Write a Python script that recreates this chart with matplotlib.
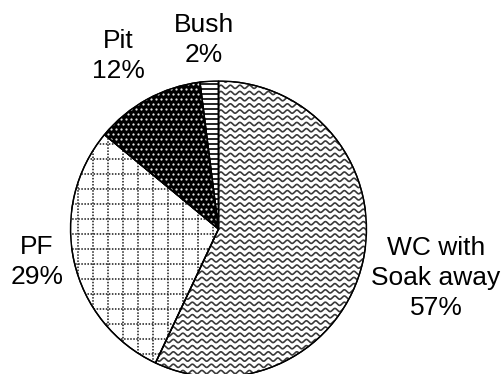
import numpy as np
import matplotlib
matplotlib.use("Agg")
import matplotlib.pyplot as plt
from matplotlib.patches import Wedge

labels = ["WC with\nSoak away", "PF", "Pit", "Bush"]
values = [57, 29, 12, 2]
pct_text = ["57%", "29%", "12%", "2%"]

plt.rcParams['font.family'] = ['Liberation Sans', 'DejaVu Sans']

W, H = 503, 374
fig = plt.figure(figsize=(W / 100, H / 100), dpi=100)
cx, cy, R = 218.5, 229.0, 148.0
ax = fig.add_axes([(cx - R) / W, (H - cy - R) / H, 2 * R / W, 2 * R / H])

wedges, _ = ax.pie(values, startangle=90, counterclock=False, radius=1,
                   colors=['white', 'white', 'black', 'white'],
                   wedgeprops=dict(edgecolor='black', linewidth=1.0))
ax.set_xlim(-1, 1)
ax.set_ylim(-1, 1)
ax.set_aspect('equal')
ax.axis('off')

px = 1.0 / R  # one pixel in data units

# WC: wavy lines
w = wedges[0]
xs = np.linspace(-1.05, 1.05, 1500)
period = 9.5 * px
amp = 1.6 * px
for y0 in np.arange(-1.05, 1.05, 6.2 * px):
    ln, = ax.plot(xs, y0 + amp * np.sin(2 * np.pi * xs / period),
                  color='#3a3a3a', lw=1.2, zorder=2)
    ln.set_clip_path(w)

# PF: dotted grid
w = wedges[1]
sp = 15.0 * px
for v in np.arange(-1.05, 1.05, sp):
    for xx, yy in (([v, v], [-1.05, 1.05]), ([-1.05, 1.05], [v, v])):
        ln, = ax.plot(xx, yy, color='#1a1a1a', lw=1.1,
                      linestyle=(0, (1.0, 1.0)), zorder=2)
        ln.set_clip_path(w)

# Pit: white dots on black
w = wedges[2]
sp = 5.0 * px
gx, gy = [], []
for i, yy in enumerate(np.arange(-1.05, 1.05, sp)):
    off = (sp / 2) if i % 2 else 0
    for xx in np.arange(-1.05, 1.05, sp):
        gx.append(xx + off)
        gy.append(yy)
sc = ax.scatter(gx, gy, s=2.6, color='#e6e6e6', linewidths=0, zorder=2)
sc.set_clip_path(w)

# Bush: horizontal lines
w = wedges[3]
for y0 in np.arange(-1.05, 1.05, 5.0 * px):
    ln, = ax.plot([-1.05, 1.05], [y0, y0], color='black', lw=1.2, zorder=2)
    ln.set_clip_path(w)

for wd in wedges:
    wd.set_zorder(1)
    ax.add_patch(Wedge(wd.center, wd.r, wd.theta1, wd.theta2, facecolor='none',
                       edgecolor='black', lw=1.0, zorder=3))

# labels (figure pixel positions)
label_pos = [(436, 278), (37, 262), (118, 56), (204, 40)]
for lab, pct, (lx, ly) in zip(labels, pct_text, label_pos):
    fig.text(lx / W, 1 - ly / H, lab + "\n" + pct, ha='center', va='center',
             fontsize=19, linespacing=1.3, color='black')

fig.savefig("out.png", dpi=100)
